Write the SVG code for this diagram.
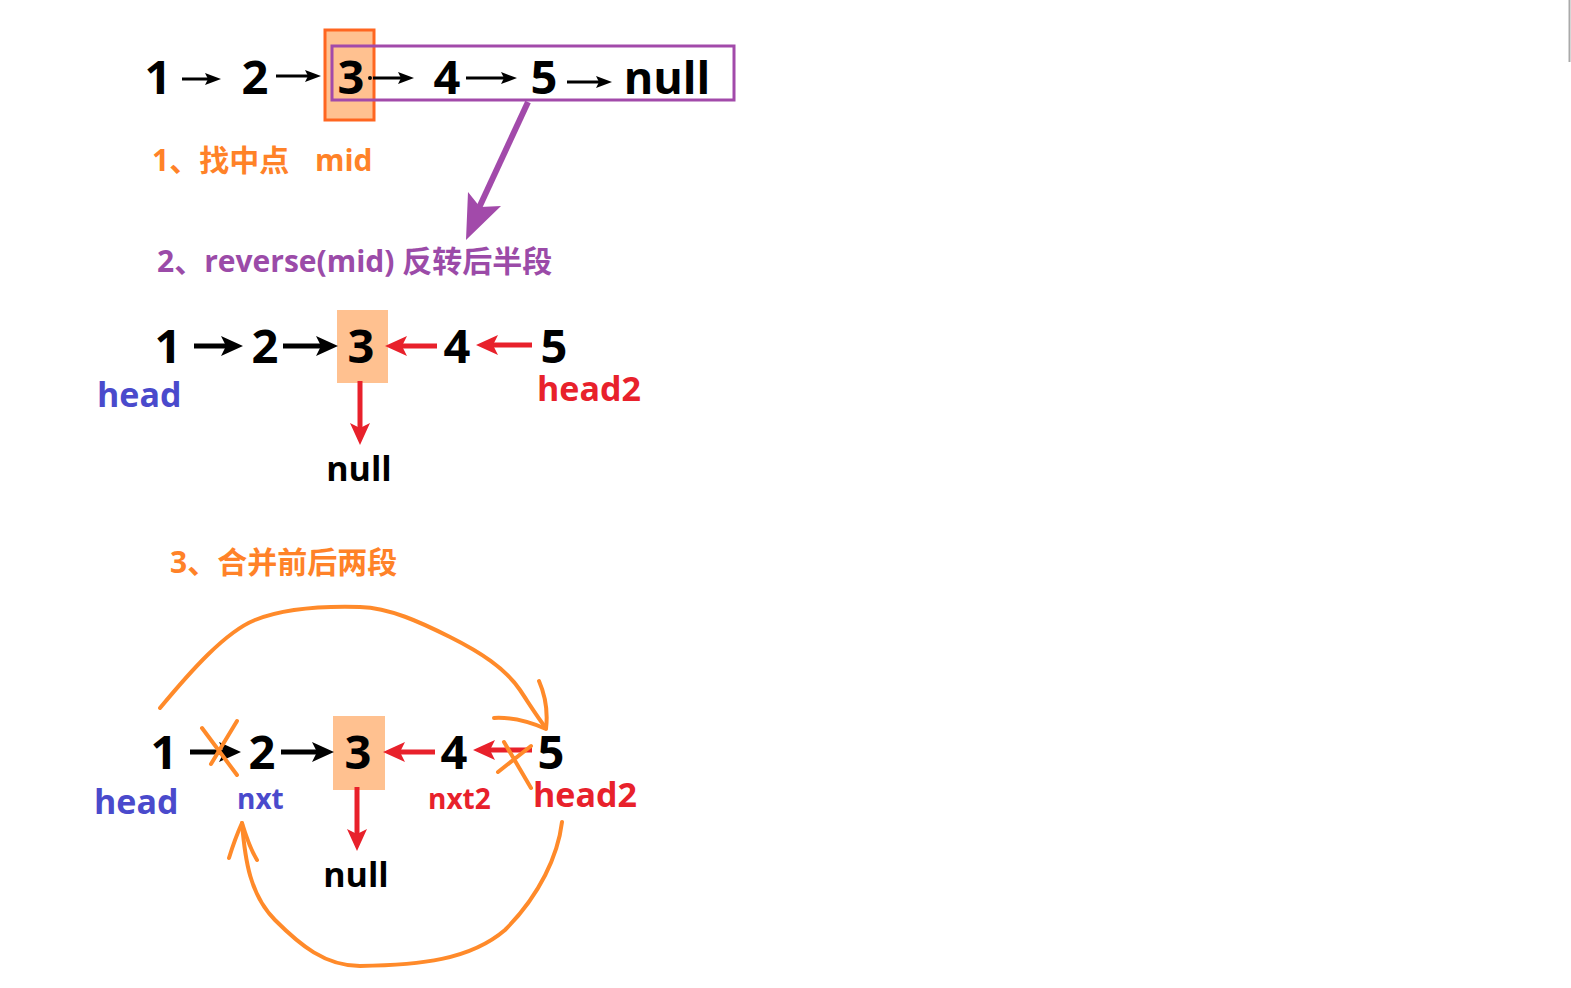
<svg xmlns="http://www.w3.org/2000/svg" width="1571" height="988" viewBox="0 0 1571 988">
<style>
text{font-family:"Open Sans","Noto Sans CJK SC",sans-serif;font-weight:bold}
.n{font-size:47px;fill:#000;text-anchor:middle}
.lbl{font-size:30px}
.sm{font-size:28px}
.big{font-size:34px}
.blk{stroke:#000;fill:none}
.red{stroke:#E8212B;fill:none;stroke-width:5}
.org{stroke:#FF8A2A;fill:none;stroke-width:4;stroke-linecap:round;stroke-linejoin:round}
</style>
<defs>
<marker id="ah" markerUnits="userSpaceOnUse" markerWidth="16" markerHeight="12" refX="10" refY="6" orient="auto"><path d="M0,0 L16,6 L0,12 L3,6 z" fill="#000"/></marker>
<marker id="bh" markerUnits="userSpaceOnUse" markerWidth="22" markerHeight="20" refX="12" refY="10" orient="auto"><path d="M0,0 L22,10 L0,20 L5,10 z" fill="#000"/></marker>
<marker id="rh" markerUnits="userSpaceOnUse" markerWidth="22" markerHeight="20" refX="12" refY="10" orient="auto"><path d="M0,0 L22,10 L0,20 L5,10 z" fill="#E8212B"/></marker>
</defs>
<rect width="1571" height="988" fill="#fff"/>
<line x1="1569.5" y1="0" x2="1569.5" y2="62" stroke="#aaa" stroke-width="2"/>

<g id="step1">
<rect x="325" y="30" width="49" height="90" fill="#FFC190" stroke="#FF6620" stroke-width="3"/>
<rect x="332" y="46" width="402" height="54" fill="none" stroke="#A24AAA" stroke-width="3"/>
<text class="n" x="158" y="94">1</text>
<text class="n" x="255" y="94">2</text>
<text class="n" x="351" y="94">3</text>
<text class="n" x="447" y="94">4</text>
<text class="n" x="544" y="94">5</text>
<text class="n" x="667" y="94" style="font-size:45px">null</text>
<text class="lbl" x="152" y="171" fill="#FF8228">1、找中点<tspan x="315">mid</tspan></text>
</g>

<g id="step2">
<text class="lbl" x="157" y="272" fill="#9B4BA8">2、reverse(mid) 反转后半段</text>
<rect x="337" y="310" width="51" height="73" fill="#FFC190"/>
<text class="n" x="168" y="363">1</text>
<text class="n" x="265" y="363">2</text>
<text class="n" x="361" y="363">3</text>
<text class="n" x="457" y="363">4</text>
<text class="n" x="554" y="363">5</text>
<text class="big" x="97" y="407" fill="#4A4ACC">head</text>
<text class="big" x="537" y="401" fill="#E8212B">head2</text>
<text class="big" x="359" y="481" text-anchor="middle" fill="#000">null</text>
</g>

<g id="step3">
<text class="lbl" x="170" y="573" fill="#FF8228">3、合并前后两段</text>
<rect x="333" y="716" width="52" height="74" fill="#FFC190"/>
<text class="n" x="164" y="769">1</text>
<text class="n" x="262" y="769">2</text>
<text class="n" x="358" y="769">3</text>
<text class="n" x="454" y="769">4</text>
<text class="n" x="551" y="769">5</text>
<text class="big" x="94" y="814" fill="#4A4ACC">head</text>
<text class="sm" x="237" y="809" fill="#4A4ACC">nxt</text>
<text class="sm" x="428" y="809" fill="#E8212B">nxt2</text>
<text class="big" x="533" y="807" fill="#E8212B">head2</text>
<text class="big" x="356" y="887" text-anchor="middle" fill="#000">null</text>
</g>

<g id="connectors">
<line class="blk" stroke-width="3" x1="182" y1="79" x2="215" y2="79" marker-end="url(#ah)"/>
<line class="blk" stroke-width="3" x1="276" y1="76" x2="315" y2="76" marker-end="url(#ah)"/>
<circle cx="370" cy="78" r="2" fill="#000"/>
<line class="blk" stroke-width="3" x1="373" y1="78" x2="408" y2="78" marker-end="url(#ah)"/>
<line class="blk" stroke-width="3" x1="466" y1="78" x2="511" y2="78" marker-end="url(#ah)"/>
<line class="blk" stroke-width="3" x1="567" y1="82" x2="606" y2="82" marker-end="url(#ah)"/>
<line x1="528" y1="102" x2="478" y2="210" stroke="#A24AAA" stroke-width="6"/>
<path d="M466,240 L468,192 L480,207 L501,206 z" fill="#A24AAA"/>

<line class="blk" stroke-width="5" x1="194" y1="346" x2="233" y2="346" marker-end="url(#bh)"/>
<line class="blk" stroke-width="5" x1="283" y1="346" x2="328" y2="346" marker-end="url(#bh)"/>
<line class="red" x1="437" y1="346" x2="395" y2="346" marker-end="url(#rh)"/>
<line class="red" x1="532" y1="345" x2="486" y2="345" marker-end="url(#rh)"/>
<line class="red" x1="360" y1="381" x2="360" y2="435" marker-end="url(#rh)"/>

<line class="blk" stroke-width="5" x1="190" y1="752" x2="231" y2="752" marker-end="url(#bh)"/>
<line class="blk" stroke-width="5" x1="281" y1="752" x2="324" y2="752" marker-end="url(#bh)"/>
<line class="red" x1="435" y1="752" x2="393" y2="752" marker-end="url(#rh)"/>
<line class="red" x1="532" y1="750" x2="483" y2="750" marker-end="url(#rh)"/>
<line class="red" x1="357" y1="787" x2="357" y2="841" marker-end="url(#rh)"/>

<path class="org" d="M202,728 L237,775 M237,721 L211,764"/>
<path class="org" d="M504,742 L531,788 M531,746 L498,772"/>
<path class="org" d="M160,708 C190,672 225,632 255,620 C285,608 325,606 360,607 C390,608 420,622 450,637 C480,652 505,668 520,690 C530,705 538,718 546,728"/>
<path class="org" d="M539,681 C546,697 548,712 546,729 C530,722 512,717 494,718"/>
<path class="org" d="M562,822 C558,855 540,895 505,930 C470,960 420,965 360,966 C325,966 300,945 275,920 C250,895 245,860 242,823"/>
<path class="org" d="M229,858 C233,845 237,834 242,823 C246,836 250,849 257,860"/>
</g>
</svg>
